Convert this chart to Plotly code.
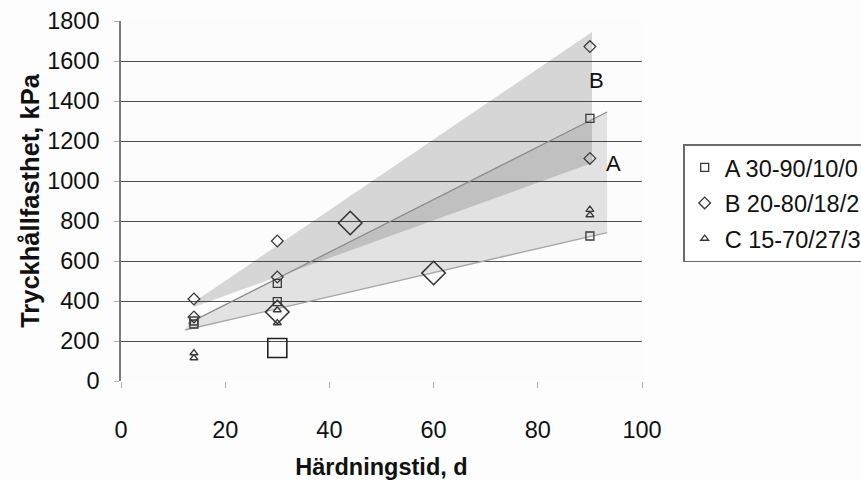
import plotly.graph_objects as go

# ---- data ----
a_x = [14, 14, 30, 30, 90, 90]
a_y = [300, 285, 488, 397, 1313, 725]
a_big_x = [30]
a_big_y = [165]

b_x = [14, 14, 30, 30, 90, 90]
b_y = [410, 320, 700, 520, 1672, 1113]
b_big_x = [30, 44, 60]
b_big_y = [345, 790, 540]

c_x = [14, 14, 30, 30, 90, 90]
c_y = [140, 115, 355, 290, 857, 830]

# shaded ranges (polygon vertices) and trend lines
bandB_x = [14, 90.4, 90.4, 14]
bandB_y = [395, 1745, 1090, 370]
bandA_x = [12.9, 93.3, 93.3, 12.3]
bandA_y = [288, 1345, 742, 255]
lineA_up_x = [12.9, 93.3]
lineA_up_y = [288, 1345]
lineA_lo_x = [12.3, 93.3]
lineA_lo_y = [255, 742]

labels = ["A 30-90/10/0", "B 20-80/18/2", "C 15-70/27/3"]
band_labels = ["B", "A"]
band_label_x = [91.2, 94.6]
band_label_y = [1505, 1090]

FONT = "Liberation Sans, Arial, sans-serif"
MK = "#3a3a3a"

fig = go.Figure()

fig.add_trace(go.Scatter(x=bandA_x, y=bandA_y, fill="toself", mode="none",
                         fillcolor="rgba(0,0,0,0.10)", showlegend=False, hoverinfo="skip"))
fig.add_trace(go.Scatter(x=bandB_x, y=bandB_y, fill="toself", mode="none",
                         fillcolor="rgba(0,0,0,0.15)", showlegend=False, hoverinfo="skip"))
fig.add_trace(go.Scatter(x=lineA_up_x, y=lineA_up_y, mode="lines",
                         line=dict(color="#8c8c8c", width=1.3), showlegend=False, hoverinfo="skip"))
fig.add_trace(go.Scatter(x=lineA_lo_x, y=lineA_lo_y, mode="lines",
                         line=dict(color="#a6a6a6", width=1.3), showlegend=False, hoverinfo="skip"))

fig.add_trace(go.Scatter(x=a_x, y=a_y, mode="markers", name=labels[0], legendgroup="a",
                         marker=dict(symbol="square-open", size=8, color=MK, line=dict(width=1.3, color=MK))))
fig.add_trace(go.Scatter(x=b_x, y=b_y, mode="markers", name=labels[1], legendgroup="b",
                         marker=dict(symbol="diamond-open", size=9, color=MK, line=dict(width=1.3, color=MK))))
fig.add_trace(go.Scatter(x=c_x, y=c_y, mode="markers", name=labels[2], legendgroup="c",
                         marker=dict(symbol="triangle-up-open", size=7, color=MK, line=dict(width=1.3, color=MK))))
fig.add_trace(go.Scatter(x=a_big_x, y=a_big_y, mode="markers", showlegend=False, legendgroup="a",
                         marker=dict(symbol="square-open", size=19, color="#222", line=dict(width=1.6, color="#222"))))
fig.add_trace(go.Scatter(x=b_big_x, y=b_big_y, mode="markers", showlegend=False, legendgroup="b",
                         marker=dict(symbol="diamond-open", size=18, color="#333", line=dict(width=1.6, color="#333"))))

for t, xx, yy in zip(band_labels, band_label_x, band_label_y):
    fig.add_annotation(x=xx, y=yy, text=t, showarrow=False,
                       font=dict(family=FONT, size=22, color="#111"))

fig.update_layout(
    width=861, height=480,
    margin=dict(l=121, r=219, t=21, b=99, autoexpand=False),
    paper_bgcolor="#fdfdfd", plot_bgcolor="#fcfcfc",
    font=dict(family=FONT, color="#111"),
    showlegend=True,
    legend=dict(x=1.079, y=0.658, xanchor="left", yanchor="top",
                bgcolor="#ffffff", bordercolor="#6a6a6a", borderwidth=1.5,
                font=dict(family=FONT, size=23.5, color="#111"),
                tracegroupgap=2, itemwidth=30),
)
fig.update_xaxes(range=[0, 100], tickvals=[0, 20, 40, 60, 80, 100],
                 showgrid=False, zeroline=False, showline=False,
                 ticks="outside", ticklen=6, tickcolor="#b0b0b0", tickwidth=1,
                 ticklabelstandoff=22,
                 tickfont=dict(family=FONT, size=23.5, color="#111"),
                 title=dict(text="<b>Härdningstid, d</b>", standoff=21,
                            font=dict(family=FONT, size=23.5, color="#111")))
fig.update_yaxes(range=[0, 1800], tickvals=list(range(0, 1801, 200)),
                 showgrid=True, gridcolor="#505050", gridwidth=1.3,
                 zeroline=False, showline=True, linecolor="#7a7a7a", linewidth=1.6,
                 ticks="outside", ticklen=5, tickcolor="#b0b0b0", tickwidth=1,
                 ticklabelstandoff=10,
                 tickfont=dict(family=FONT, size=23.5, color="#111"),
                 title=dict(text="<b>Tryckhållfasthet, kPa</b>", standoff=0,
                            font=dict(family=FONT, size=25.5, color="#111")))

fig.write_html("out.html")
